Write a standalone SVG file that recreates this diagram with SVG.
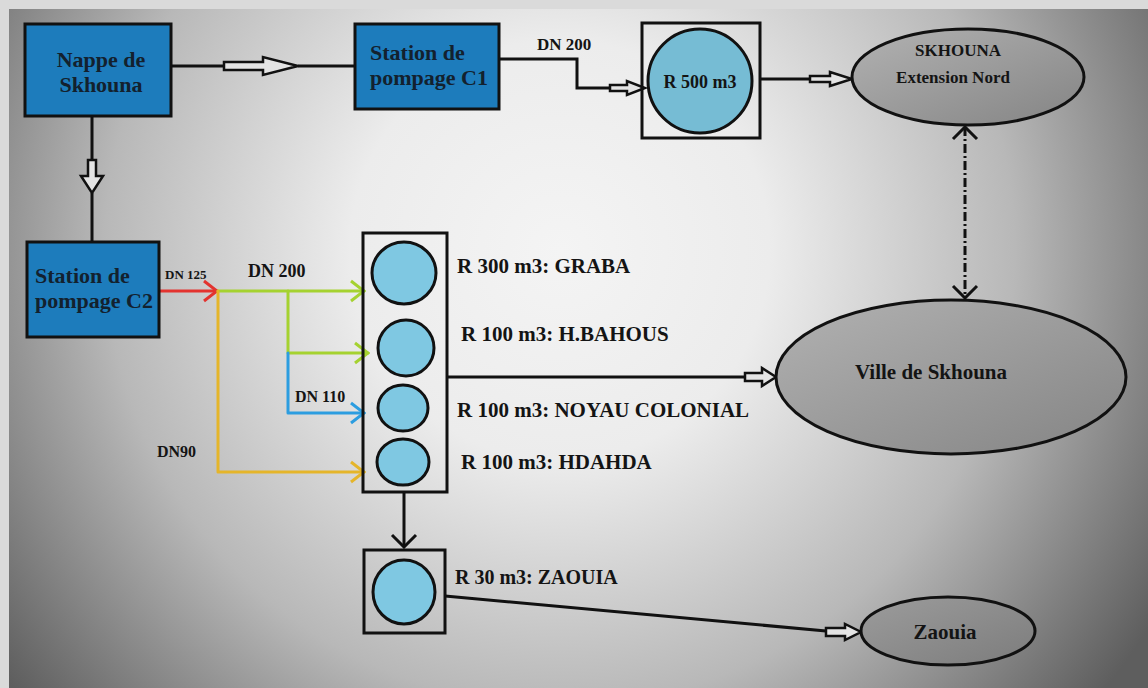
<svg xmlns="http://www.w3.org/2000/svg" width="1148" height="688" viewBox="0 0 1148 688">
<defs>
<radialGradient id="bg" gradientUnits="userSpaceOnUse" cx="560" cy="250" r="700">
<stop offset="0" stop-color="#f4f4f4"/>
<stop offset="0.3" stop-color="#ececec"/>
<stop offset="0.65" stop-color="#b8b8b8"/>
<stop offset="1" stop-color="#5e5e5e"/>
</radialGradient>
<linearGradient id="ell" x1="0" y1="0" x2="1" y2="1">
<stop offset="0" stop-color="#b2b2b2"/>
<stop offset="1" stop-color="#848484"/>
</linearGradient>
<linearGradient id="ell2" x1="0" y1="0" x2="1" y2="1">
<stop offset="0" stop-color="#9c9c9c"/>
<stop offset="1" stop-color="#7c7c7c"/>
</linearGradient>
<marker id="mRed" markerUnits="userSpaceOnUse" viewBox="-16 -12 18 24" refX="0" refY="0" markerWidth="18" markerHeight="24" orient="auto"><path d="M-13,-10 L0,0 L-13,10" fill="none" stroke="#e3332f" stroke-width="3"/></marker>
<marker id="mGreen" markerUnits="userSpaceOnUse" viewBox="-16 -12 18 24" refX="0" refY="0" markerWidth="18" markerHeight="24" orient="auto"><path d="M-13,-10 L0,0 L-13,10" fill="none" stroke="#a5d230" stroke-width="3"/></marker>
<marker id="mBlue" markerUnits="userSpaceOnUse" viewBox="-16 -12 18 24" refX="0" refY="0" markerWidth="18" markerHeight="24" orient="auto"><path d="M-13,-10 L0,0 L-13,10" fill="none" stroke="#2c9de0" stroke-width="3"/></marker>
<marker id="mYellow" markerUnits="userSpaceOnUse" viewBox="-16 -12 18 24" refX="0" refY="0" markerWidth="18" markerHeight="24" orient="auto"><path d="M-13,-10 L0,0 L-13,10" fill="none" stroke="#e5b52a" stroke-width="3"/></marker>
<marker id="mBlack" markerUnits="userSpaceOnUse" viewBox="-16 -14 18 28" refX="0" refY="0" markerWidth="18" markerHeight="28" orient="auto-start-reverse"><path d="M-12,-12 L0,0 L-12,12" fill="none" stroke="#111" stroke-width="3"/></marker>
</defs>
<style>
text{font-family:"Liberation Serif","DejaVu Serif","Times New Roman",serif;font-weight:bold}
.t{fill:#141414}
.bt{fill:#13212e;font-size:22px}
.box{fill:#1d7cbc;stroke:#111;stroke-width:3}
.frame{fill:none;stroke:#111;stroke-width:3}
.tank{fill:#7fc8e2;stroke:#111;stroke-width:3}
.ell{fill:url(#ell);stroke:#111;stroke-width:3}
.ln{fill:none;stroke:#111;stroke-width:3}
.ha{fill:#e4e4e4;stroke:#111;stroke-width:2.5;stroke-linejoin:miter}
.c{fill:none;stroke-width:3;stroke-linecap:round;stroke-linejoin:round}
</style>
<rect x="0" y="0" width="1148" height="688" fill="#dadada"/>
<rect x="9" y="9" width="1139" height="679" fill="url(#bg)"/>

<g id="connectors">
<path class="ln" d="M171,66 H224 M298,66 H355"/>
<polygon class="ha" points="224,62 263,62 263,57 298,66 263,75 263,70 224,70"/>
<path class="ln" d="M92,116 V160 M92,193 V242"/>
<polygon class="ha" points="88,160 96,160 96,176 103,176 92,193 81,176 88,176"/>
<path class="ln" d="M499,59 H577 V88 H610"/>
<polygon class="ha" points="610,85 627,85 627,81 645,88 627,95 627,91 610,91"/>
<text class="t" x="537" y="50" font-size="17">DN 200</text>
<path class="ln" d="M760,79 H810"/>
<polygon class="ha" points="810,76 830,76 830,72 852,79 830,86 830,82 810,82"/>
<path d="M965,127 V298" fill="none" stroke="#111" stroke-width="3" stroke-dasharray="9,3,2,3" marker-start="url(#mBlack)" marker-end="url(#mBlack)"/>
<path class="c" stroke="#e3332f" d="M159,291 H217" marker-end="url(#mRed)"/>
<path class="c" stroke="#a5d230" d="M218,291 H364" marker-end="url(#mGreen)"/>
<path class="c" stroke="#a5d230" d="M288,291 V353 H368" marker-end="url(#mGreen)"/>
<path class="c" stroke="#2c9de0" d="M288,353 V413 H364" marker-end="url(#mBlue)"/>
<path class="c" stroke="#e5b52a" d="M218,291 V472 H364" marker-end="url(#mYellow)"/>
<text class="t" x="165" y="279" font-size="13">DN 125</text>
<text class="t" x="248" y="277" font-size="18">DN 200</text>
<text class="t" x="295" y="402" font-size="16">DN 110</text>
<text class="t" x="157" y="457" font-size="16">DN90</text>
<path class="ln" d="M447,377 H745"/>
<polygon class="ha" points="745,373 762,373 762,368 776,377 762,386 762,381 745,381"/>
<path class="ln" d="M404,492 V547" marker-end="url(#mBlack)"/>
<path class="ln" d="M445,596 L826,631"/>
<polygon class="ha" points="826,628 845,628 845,624 861,632 845,640 845,636 826,636"/>
</g>

<g id="nappe">
<rect class="box" x="25" y="24" width="146" height="92"/>
<text class="bt" x="101" y="67" text-anchor="middle">Nappe de</text>
<text class="bt" x="101" y="92" text-anchor="middle">Skhouna</text>
</g>

<g id="station-c1">
<rect class="box" x="355" y="24" width="144" height="85"/>
<text class="bt" x="370" y="60">Station de</text>
<text class="bt" x="370" y="85">pompage C1</text>
</g>

<g id="r500">
<rect class="frame" x="642" y="23" width="118" height="115"/>
<circle cx="700" cy="81" r="52" fill="#76bcd4" stroke="#111" stroke-width="3"/>
<text class="t" x="700" y="88" font-size="18" text-anchor="middle">R 500 m3</text>
</g>

<g id="skhouna-nord">
<ellipse class="ell" cx="968" cy="77" rx="116" ry="48"/>
<text class="t" x="958" y="56" font-size="17" text-anchor="middle" fill="#2a2a2a">SKHOUNA</text>
<text class="t" x="953" y="83" font-size="17" text-anchor="middle" fill="#2a2a2a">Extension Nord</text>
</g>

<g id="station-c2">
<rect class="box" x="27" y="242" width="132" height="95"/>
<text class="bt" x="35" y="283">Station de</text>
<text class="bt" x="35" y="308">pompage C2</text>
</g>

<g id="reservoirs">
<rect class="frame" x="363" y="233" width="84" height="259"/>
<g id="r300-graba">
<ellipse class="tank" cx="404" cy="273" rx="32" ry="31"/>
<text class="t" x="457" y="273" font-size="21">R 300 m3: GRABA</text>
</g>
<g id="r100-hbahous">
<ellipse class="tank" cx="406" cy="348" rx="28" ry="28"/>
<text class="t" x="461" y="341" font-size="21">R 100 m3: H.BAHOUS</text>
</g>
<g id="r100-noyau">
<ellipse class="tank" cx="403" cy="408" rx="25" ry="23"/>
<text class="t" x="457" y="417" font-size="21">R 100 m3: NOYAU COLONIAL</text>
</g>
<g id="r100-hdahda">
<ellipse class="tank" cx="403" cy="462" rx="26" ry="23"/>
<text class="t" x="461" y="469" font-size="21">R 100 m3: HDAHDA</text>
</g>
</g>

<g id="ville">
<ellipse class="ell" cx="951" cy="377" rx="175" ry="77"/>
<text class="t" x="931" y="379" font-size="21" text-anchor="middle">Ville de Skhouna</text>
</g>

<g id="r30-zaouia">
<rect class="frame" x="364" y="550" width="81" height="83"/>
<ellipse class="tank" cx="404" cy="592" rx="31" ry="32"/>
<text class="t" x="455" y="584" font-size="20">R 30 m3: ZAOUIA</text>
</g>

<g id="zaouia">
<ellipse cx="948" cy="631" rx="87" ry="34" fill="url(#ell2)" stroke="#111" stroke-width="3"/>
<text class="t" x="945" y="639" font-size="21" text-anchor="middle">Zaouia</text>
</g>
</svg>
